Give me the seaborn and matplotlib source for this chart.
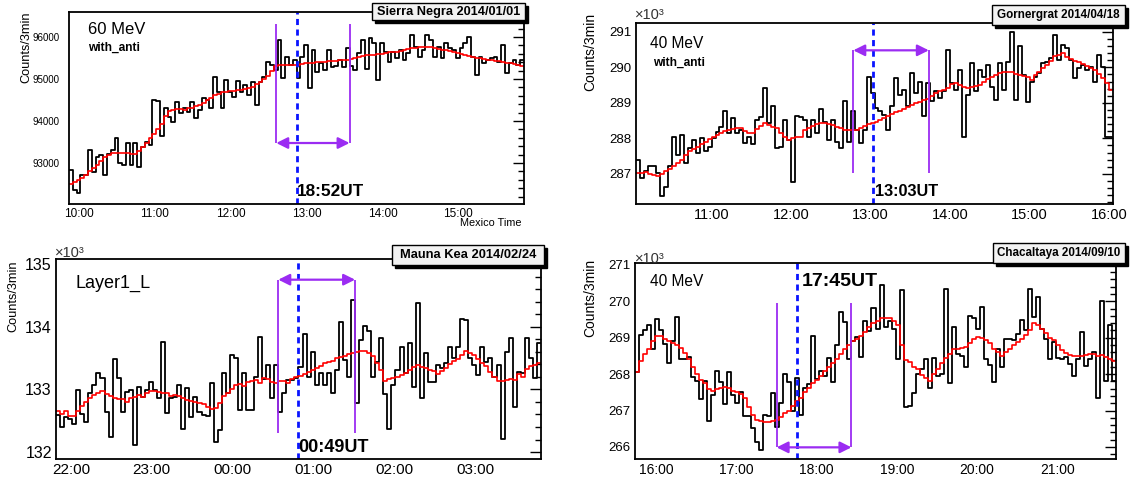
import matplotlib
matplotlib.use("Agg")
import matplotlib.pyplot as plt
from matplotlib.patches import Rectangle
from matplotlib.ticker import MultipleLocator
import seaborn as sns
import pandas as pd
import numpy as np

W, H = 1131, 484
BIN_H = 3 / 60  # one bin = 3 min, in hours

# ---------------- Sierra Negra 2014/01/01 (Mexico time) ----------------
sn_start = 9 + 52 / 60
sn_counts = [
    92830, 92355, 92275, 92715, 92715, 93310, 92790, 93150, 93190, 92715,
    93215, 93310, 93590, 92990, 92950, 93470, 92950, 93470, 92910, 93390,
    93510, 93430, 94500, 94480, 93640, 94300, 94100, 93980, 94460, 94180,
    94300, 94220, 94460, 94060, 94260, 94540, 94500, 94300, 95055, 94700,
    94300, 94980, 94700, 94580, 94960, 94700, 94860, 94620, 94940, 94380,
    94940, 95055, 95410, 95330, 95215, 95930, 95015, 95530, 95330, 95450,
    95015, 95530, 95810, 94780, 95690, 95175, 95370, 95215, 95690, 95280,
    95310, 95450, 95290, 95730, 95310, 95215, 95610, 95930, 95230, 95970,
    95850, 94980, 95850, 95650, 95410, 95650, 95490, 95690, 95450, 95610,
    96050, 95770, 95530, 95690, 96050, 95930, 95530, 95770, 95490, 95850,
    95730, 95690, 95490, 95730, 95850, 96010, 95530, 95095, 95530, 95370,
    95450, 95490, 95530, 95410, 95810, 95135, 95370, 95450, 95330, 95450,
]
sn_avg = [
    92510, 92550, 92590, 92650, 92720, 92800, 92880, 92950, 93050, 93150,
    93200, 93230, 93230, 93240, 93250, 93230, 93220, 93210, 93290, 93380,
    93470, 93590, 93700, 93820, 93940, 94130, 94230, 94270, 94280, 94280,
    94270, 94300, 94320, 94350, 94380, 94430, 94490, 94540, 94610, 94650,
    94680, 94700, 94710, 94720, 94730, 94740, 94770, 94790, 94820, 94880,
    94940, 95000, 95060, 95200, 95300, 95330, 95330, 95340, 95340, 95340,
    95340, 95360, 95370, 95380, 95390, 95400, 95400, 95410, 95420, 95430,
    95440, 95450, 95450, 95460, 95480, 95500, 95530, 95550, 95560, 95570,
    95580, 95590, 95600, 95620, 95640, 95650, 95650, 95660, 95690, 95710,
    95730, 95740, 95750, 95760, 95770, 95760, 95740, 95710, 95700, 95680,
    95660, 95650, 95630, 95600, 95570, 95550, 95520, 95500, 95490, 95470,
    95460, 95450, 95440, 95420, 95400, 95390, 95370, 95350, 95330, 95310,
]
sn_event = 12 + 52 / 60
sn_window = (12 + 36 / 60, 13 + 34 / 60)
sn_arrow_y, sn_line_end = 93476, 96310
sn_xticks = [10, 11, 12, 13, 14, 15]
sn_xlabels = ["10:00", "11:00", "12:00", "13:00", "14:00", "15:00"]
sn_yticks = [93000, 94000, 95000, 96000]

# ---------------- Gornergrat 2014/04/18 (x10^3 counts) ----------------
gg_start = 10 + 3 / 60
gg_counts = [
    287.39, 286.88, 287.07, 287.21, 287.23, 287.02, 286.38, 286.64, 287.21, 288.03,
    287.54, 288.10, 287.30, 287.72, 287.96, 287.58, 288.00, 287.63, 287.77, 288.00,
    288.19, 288.33, 288.76, 288.15, 288.57, 288.15, 288.24, 287.86, 288.03, 287.85,
    288.52, 288.60, 289.41, 288.43, 288.92, 287.72, 287.77, 288.52, 287.96, 286.78,
    288.62, 288.60, 288.52, 288.05, 288.52, 288.15, 288.82, 288.47, 287.96, 288.52,
    287.91, 287.72, 289.04, 287.91, 288.76, 288.24, 287.86, 288.24, 289.74, 289.27,
    288.85, 288.76, 288.66, 288.24, 288.90, 289.69, 289.23, 289.37, 288.90, 289.84,
    289.27, 289.60, 288.62, 289.55, 289.04, 289.32, 289.13, 289.32, 290.49, 289.55,
    289.37, 289.93, 288.05, 289.23, 290.12, 289.32, 289.93, 289.74, 290.07, 289.46,
    289.08, 290.12, 289.37, 290.14, 291.01, 289.08, 290.59, 289.79, 289.01, 289.60,
    289.74, 289.84, 290.12, 290.16, 290.26, 290.92, 290.21, 290.63, 290.54, 290.21,
    289.69, 289.98, 290.07, 289.93, 290.02, 289.60, 290.35, 290.02, 288.05, 288.05,
]
gg_avg = [
    287.02, 287.02, 287.05, 287.00, 286.96, 286.93, 287.00, 287.07, 287.14, 287.21,
    287.30, 287.40, 287.52, 287.63, 287.70, 287.77, 287.84, 287.90, 287.98, 288.05,
    288.10, 288.15, 288.20, 288.24, 288.26, 288.28, 288.29, 288.20, 288.15, 288.15,
    288.25, 288.35, 288.43, 288.38, 288.33, 288.29, 288.15, 288.05, 287.96, 288.00,
    288.03, 288.05, 288.24, 288.30, 288.36, 288.40, 288.43, 288.42, 288.40, 288.38,
    288.33, 288.28, 288.24, 288.24, 288.24, 288.24, 288.30, 288.36, 288.40, 288.44,
    288.47, 288.52, 288.57, 288.62, 288.68, 288.73, 288.78, 288.82, 288.88, 288.94,
    288.99, 289.03, 289.07, 289.12, 289.20, 289.27, 289.32, 289.37, 289.42, 289.52,
    289.55, 289.50, 289.46, 289.42, 289.44, 289.48, 289.51, 289.58, 289.66, 289.72,
    289.78, 289.84, 289.86, 289.88, 289.86, 289.82, 289.79, 289.76, 289.74, 289.65,
    289.78, 289.88, 289.98, 290.08, 290.18, 290.31, 290.36, 290.40, 290.30, 290.24,
    290.19, 290.16, 290.10, 290.04, 289.98, 289.93, 289.80, 289.69, 289.55, 289.35,
]
gg_event = 13 + 2 / 60
gg_window = (12 + 47 / 60, 13 + 44 / 60)
gg_arrow_y, gg_line_end = 290.48, 287.03
gg_xticks = [11, 12, 13, 14, 15, 16]
gg_xlabels = ["11:00", "12:00", "13:00", "14:00", "15:00", "16:00"]
gg_yticks = [287, 288, 289, 290, 291]

# ---------------- Mauna Kea 2014/02/24 (x10^3 counts) ----------------
mk_start = 21 + 49 / 60
mk_counts = [
    132.59, 132.40, 132.56, 132.53, 132.45, 132.99, 132.61, 132.48, 132.94, 133.07,
    133.26, 133.18, 132.64, 132.24, 133.48, 133.18, 132.64, 132.96, 132.99, 132.11,
    133.04, 132.88, 132.99, 133.12, 132.99, 132.86, 133.75, 132.63, 132.86, 132.88,
    133.07, 132.37, 133.02, 132.56, 132.88, 132.64, 132.59, 132.57, 133.10, 132.16,
    132.36, 133.26, 132.94, 133.55, 133.50, 132.67, 133.26, 132.67, 132.67, 133.20,
    133.83, 133.16, 133.39, 132.86, 133.39, 132.64, 132.94, 133.15, 133.15, 133.18,
    133.36, 133.89, 133.20, 133.60, 133.07, 133.26, 133.07, 133.26, 132.95, 133.31,
    134.07, 133.47, 133.20, 134.42, 132.78, 133.79, 134.01, 133.93, 133.20, 133.44,
    133.82, 132.93, 132.37, 133.07, 133.31, 133.68, 133.26, 133.74, 133.04, 134.38,
    132.86, 133.58, 133.12, 133.12, 133.39, 133.34, 133.42, 133.68, 133.50, 133.68,
    134.12, 134.11, 133.50, 133.39, 133.23, 133.68, 133.44, 133.50, 133.20, 133.39,
    132.21, 133.60, 133.82, 132.72, 133.28, 133.26, 133.82, 133.50, 133.18, 133.74,
]
mk_avg = [
    132.65, 132.60, 132.65, 132.58, 132.57, 132.65, 132.73, 132.80, 132.86, 132.91,
    132.94, 132.97, 132.93, 132.89, 132.86, 132.84, 132.84, 132.80, 132.86, 132.88,
    132.91, 132.88, 132.94, 132.97, 132.97, 132.96, 132.95, 132.94, 132.90, 132.91,
    132.89, 132.86, 132.83, 132.81, 132.80, 132.78, 132.76, 132.72, 132.68, 132.70,
    132.78, 132.90, 132.94, 133.00, 133.07, 133.09, 133.06, 133.12, 133.13, 133.15,
    133.10, 133.18, 133.16, 133.12, 133.10, 133.14, 133.14, 133.10, 133.16, 133.19,
    133.21, 133.24, 133.27, 133.31, 133.34, 133.37, 133.42, 133.44, 133.46, 133.50,
    133.52, 133.54, 133.56, 133.58, 133.60, 133.62, 133.61, 133.58, 133.53, 133.42,
    133.31, 133.14, 133.16, 133.18, 133.20, 133.23, 133.26, 133.31, 133.36, 133.39,
    133.36, 133.34, 133.31, 133.29, 133.24, 133.29, 133.34, 133.40, 133.45, 133.49,
    133.55, 133.61, 133.58, 133.55, 133.48, 133.42, 133.37, 133.28, 133.20, 133.13,
    133.13, 133.15, 133.16, 133.15, 133.24, 133.20, 133.32, 133.37, 133.39, 133.42,
]
mk_event = 24 + 49 / 60
mk_window = (24 + 34 / 60, 25 + 31 / 60)
mk_arrow_y, mk_line_end = 134.75, 132.30
mk_xticks = [22, 23, 24, 25, 26, 27]
mk_xlabels = ["22:00", "23:00", "00:00", "01:00", "02:00", "03:00"]
mk_yticks = [132, 133, 134, 135]

# ---------------- Chacaltaya 2014/09/10 (x10^3 counts) ----------------
ch_start = 15 + 44 / 60
ch_counts = [
    268.05, 269.08, 269.20, 269.34, 268.69, 269.50, 269.20, 268.83, 268.30, 268.90,
    269.57, 268.42, 268.42, 268.46, 267.91, 267.81, 267.31, 267.81, 266.70, 267.44,
    268.09, 267.77, 267.17, 268.05, 267.44, 267.21, 267.52, 266.86, 266.84, 266.52,
    266.15, 265.92, 266.89, 266.86, 267.49, 266.56, 267.21, 268.00, 267.79, 266.98,
    267.88, 266.89, 267.63, 267.72, 269.05, 267.86, 268.09, 267.95, 268.44, 267.79,
    268.79, 269.71, 269.42, 268.42, 268.90, 269.02, 268.46, 269.45, 269.18, 269.82,
    269.25, 270.44, 269.30, 269.45, 269.25, 268.42, 270.31, 267.09, 267.12, 267.49,
    268.00, 268.14, 268.42, 267.63, 268.45, 267.95, 268.00, 270.34, 267.75, 269.30,
    268.56, 268.51, 268.19, 269.60, 269.53, 269.25, 269.85, 268.42, 268.25, 267.77,
    268.69, 268.19, 268.97, 268.97, 268.93, 269.11, 269.48, 269.20, 270.34, 269.57,
    270.13, 269.25, 268.97, 268.42, 268.88, 268.44, 268.42, 268.46, 268.28, 267.95,
    268.42, 269.16, 268.23, 268.42, 268.60, 267.35, 270.01, 267.81, 269.34, 267.81,
]
ch_avg = [
    268.05, 268.35, 268.55, 268.70, 268.90, 269.05, 269.05, 268.97, 268.90, 268.85,
    268.80, 268.72, 268.58, 268.42, 268.20, 268.00, 267.85, 267.75, 267.60, 267.55,
    267.58, 267.62, 267.66, 267.63, 267.55, 267.50, 267.45, 267.35, 267.10, 266.89,
    266.75, 266.70, 266.68, 266.68, 266.70, 266.75, 266.82, 266.92, 267.00, 267.12,
    267.25, 267.35, 267.50, 267.62, 267.75, 267.85, 267.95, 268.08, 268.20, 268.30,
    268.42, 268.55, 268.69, 268.80, 268.90, 268.97, 269.05, 269.16, 269.28, 269.39,
    269.46, 269.53, 269.53, 269.53, 269.45, 269.34, 268.79, 268.40, 268.32, 268.20,
    268.14, 267.98, 267.90, 267.81, 268.00, 268.14, 268.30, 268.45, 268.55, 268.69,
    268.70, 268.72, 268.74, 268.85, 268.97, 269.02, 269.00, 268.93, 268.85, 268.69,
    268.60, 268.51, 268.60, 268.70, 268.79, 268.88, 268.97, 269.08, 269.20, 269.40,
    269.35, 269.25, 269.12, 269.00, 268.93, 268.80, 268.65, 268.58, 268.53, 268.51,
    268.50, 268.51, 268.53, 268.55, 268.56, 268.51, 268.53, 268.48, 268.42, 268.35,
]
ch_event = 17 + 45 / 60
ch_window = (17 + 30 / 60, 18 + 26 / 60)
ch_arrow_y, ch_line_end = 265.99, 269.95
ch_xticks = [16, 17, 18, 19, 20, 21]
ch_xlabels = ["16:00", "17:00", "18:00", "19:00", "20:00", "21:00"]
ch_yticks = [266, 267, 268, 269, 270, 271]

VIOLET = "#9b2cf2"

sns.set_style("white")
plt.rcParams["font.family"] = ["Liberation Sans", "DejaVu Sans"]
plt.rcParams["text.color"] = "black"
plt.rcParams["xtick.color"] = "black"
plt.rcParams["ytick.color"] = "black"
plt.rcParams["axes.labelcolor"] = "black"

fig = plt.figure(figsize=(W / 100, H / 100), dpi=100)


def px_axes(x0, y0, x1, y1):
    return fig.add_axes([x0 / W, 1 - y1 / H, (x1 - x0) / W, (y1 - y0) / H])


def ftext(x, y, s, **kw):
    fig.text(x / W, 1 - y / H, s, **kw)


def pave(x0, y0, x1, y1, label, size):
    # ROOT style label box with a drop shadow
    fig.patches.append(Rectangle(((x0 + 3) / W, 1 - (y1 + 3) / H), (x1 - x0) / W, (y1 - y0) / H,
                                 transform=fig.transFigure, fc="black", ec="black", zorder=5))
    fig.patches.append(Rectangle((x0 / W, 1 - y1 / H), (x1 - x0) / W, (y1 - y0) / H,
                                 transform=fig.transFigure, fc="#f2f2f2", ec="black", lw=1, zorder=6))
    ftext((x0 + x1) / 2, (y0 + y1) / 2, label, ha="center", va="center",
          fontsize=size, fontweight="bold", zorder=7)


def draw_panel(ax, start, counts, avg, ylim, xticks, xlabels, yticks, ytick_fmt,
               ymin_step, event, window, arrow_y, line_end, xsize, ysize):
    edges = start + BIN_H * np.arange(len(counts) + 1)
    df = pd.DataFrame({"t": edges,
                       "counts": list(counts) + [counts[-1]],
                       "avg": list(avg) + [avg[-1]]})
    sns.lineplot(data=df, x="t", y="counts", ax=ax, color="black", lw=1.3,
                 drawstyle="steps-post", estimator=None)
    sns.lineplot(data=df, x="t", y="avg", ax=ax, color="red", lw=1.2,
                 drawstyle="steps-post", estimator=None)

    ax.set_xlim(edges[0], edges[-1])
    ax.set_ylim(*ylim)

    # event window: two violet lines and a double arrow
    ax.vlines(window, min(arrow_y, line_end), max(arrow_y, line_end), color=VIOLET, lw=1.3)
    ax.annotate("", xy=(window[1], arrow_y), xytext=(window[0], arrow_y),
                arrowprops=dict(arrowstyle="<|-|>", color=VIOLET, lw=1.6,
                                mutation_scale=17, shrinkA=0, shrinkB=0))
    ax.axvline(event, color="#0a14ff", lw=2, ls=(0, (2.2, 1.6)))

    ax.set_xticks(xticks)
    ax.set_xticklabels(xlabels)
    ax.xaxis.set_minor_locator(MultipleLocator(0.5))
    ax.set_yticks(yticks)
    ax.set_yticklabels([ytick_fmt.format(v) for v in yticks])
    ax.yaxis.set_minor_locator(MultipleLocator(ymin_step))
    ax.tick_params(which="both", direction="in", right=True, top=False, width=1,
                   colors="black")
    ax.tick_params(which="major", length=8)
    ax.tick_params(which="minor", length=4.5)
    ax.tick_params(axis="x", labelsize=xsize, pad=3)
    ax.tick_params(axis="y", labelsize=ysize, pad=3)
    ax.set_xlabel("")
    ax.set_ylabel("")
    for sp in ax.spines.values():
        sp.set_linewidth(1.3)
        sp.set_color("black")


# ---- panel 1: Sierra Negra
ax1 = px_axes(69, 12, 524, 204)
draw_panel(ax1, sn_start, sn_counts, sn_avg, (92024, 96595), sn_xticks, sn_xlabels,
           sn_yticks, "{:d}", 200, sn_event, sn_window, sn_arrow_y, sn_line_end, 8.5, 7)
ax1.tick_params(axis="y", pad=7)

# ---- panel 2: Gornergrat
ax2 = px_axes(636, 23, 1113, 204)
draw_panel(ax2, gg_start, gg_counts, gg_avg, (286.15, 291.25), gg_xticks, gg_xlabels,
           gg_yticks, "{:d}", 0.2, gg_event, gg_window, gg_arrow_y, gg_line_end, 10.5, 9.5)

# ---- panel 3: Mauna Kea
ax3 = px_axes(56, 259, 541, 459)
draw_panel(ax3, mk_start, mk_counts, mk_avg, (131.89, 135.08), mk_xticks, mk_xlabels,
           mk_yticks, "{:d}", 0.2, mk_event, mk_window, mk_arrow_y, mk_line_end, 11, 11.5)

# ---- panel 4: Chacaltaya
ax4 = px_axes(635, 263, 1116, 459)
draw_panel(ax4, ch_start, ch_counts, ch_avg, (265.67, 271.05), ch_xticks, ch_xlabels,
           ch_yticks, "{:d}", 0.2, ch_event, ch_window, ch_arrow_y, ch_line_end, 10, 9.5)

# ---- y titles
ftext(26, 47, "Counts/3min", rotation=90, ha="center", va="center", fontsize=9.2)
ftext(590, 52, "Counts/3min", rotation=90, ha="center", va="center", fontsize=10)
ftext(13, 296, "Counts/3min", rotation=90, ha="center", va="center", fontsize=9.2)
ftext(590, 298, "Counts/3min", rotation=90, ha="center", va="center", fontsize=10)

# ---- exponent labels
ftext(635, 15, "×10³", ha="left", va="center", fontsize=10.5, color="#333333")
ftext(55, 253, "×10³", ha="left", va="center", fontsize=10.5, color="#333333")
ftext(635, 259, "×10³", ha="left", va="center", fontsize=10.5, color="#333333")

# ---- in-plot annotations
ftext(88, 30, "60 MeV", ha="left", va="center", fontsize=12)
ftext(88, 48, "with_anti", ha="left", va="center", fontsize=8.6, fontweight="bold")
ftext(297, 191, "18:52UT", ha="left", va="center", fontsize=12.4, fontweight="bold")
ftext(522, 223, "Mexico Time", ha="right", va="center", fontsize=7.8)

ftext(650, 43, "40 MeV", ha="left", va="center", fontsize=11.2)
ftext(653, 63, "with_anti", ha="left", va="center", fontsize=8.6, fontweight="bold")
ftext(875, 192, "13:03UT", ha="left", va="center", fontsize=11.7, fontweight="bold")

ftext(75, 283, "Layer1_L", ha="left", va="center", fontsize=13)
ftext(298, 448, "00:49UT", ha="left", va="center", fontsize=13, fontweight="bold")

ftext(650, 282, "40 MeV", ha="left", va="center", fontsize=11.2)
ftext(802, 281, "17:45UT", ha="left", va="center", fontsize=14, fontweight="bold")

# ---- site / date boxes
pave(372, 3, 525, 20, "Sierra Negra 2014/01/01", 9.2)
pave(992, 5, 1125, 25, "Gornergrat 2014/04/18", 8.4)
pave(392, 245, 544, 265, "Mauna Kea 2014/02/24", 9.3)
pave(993, 243, 1125, 263, "Chacaltaya 2014/09/10", 8.4)

fig.savefig("out.png", dpi=100)
plt.close(fig)
